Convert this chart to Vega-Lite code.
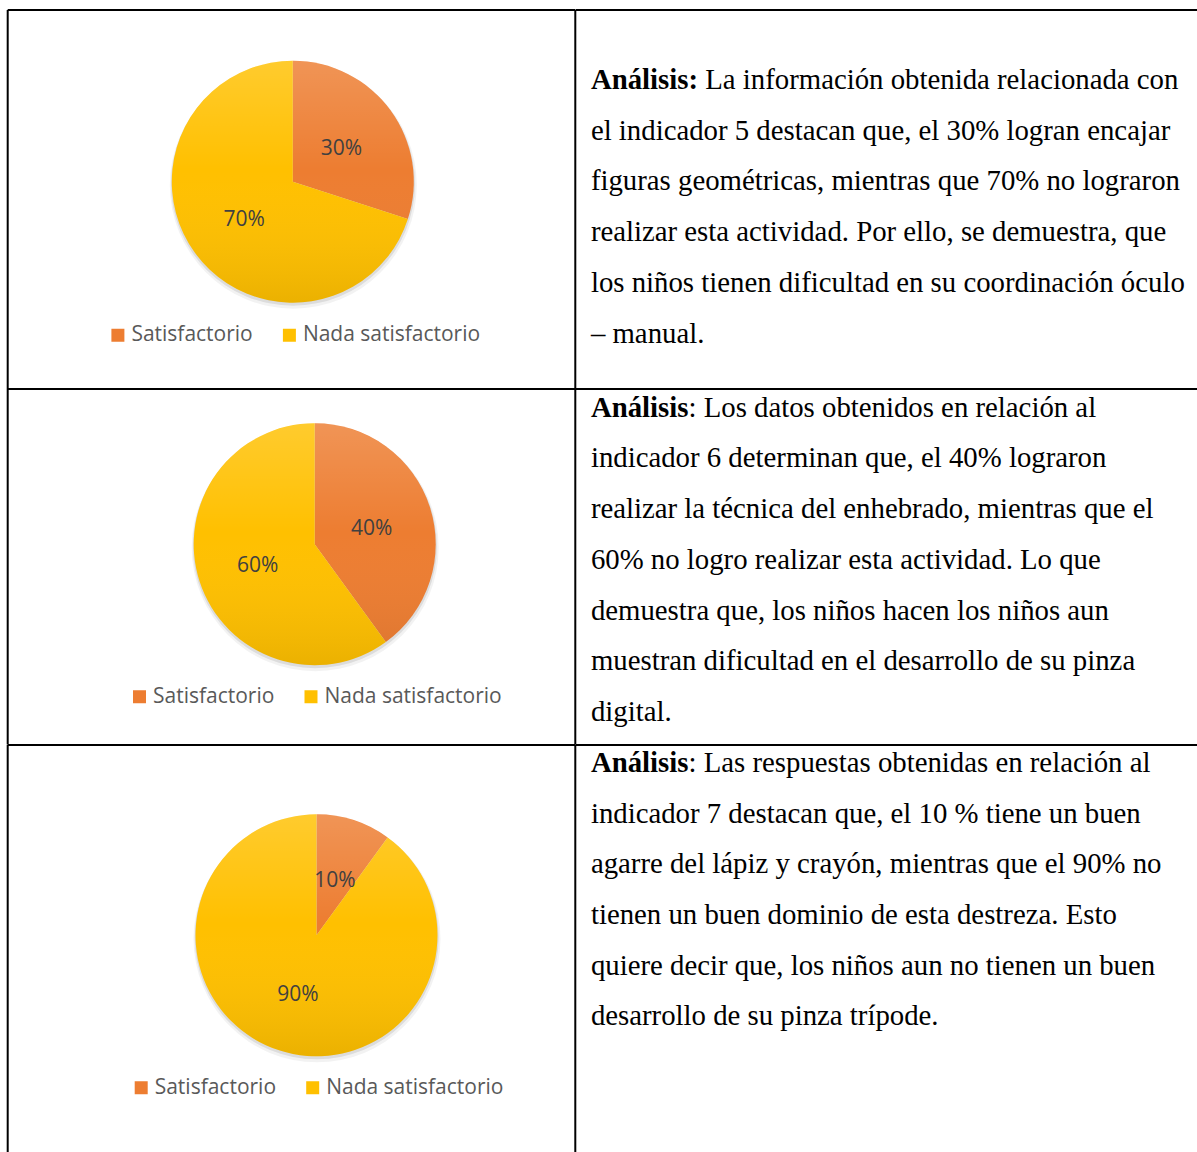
{
  "$schema": "https://vega.github.io/schema/vega-lite/v6.json",
  "padding": {"left": 6.7, "top": 9, "right": 0, "bottom": 0},
  "autosize": {"type": "pad"},
  "background": "white",
  "config": {
    "view": {"stroke": null},
    "text": {"font": "Liberation Serif", "fontSize": 28.8, "fill": "#000000"},
    "legend": {
      "orient": "none", "direction": "horizontal", "title": null,
      "symbolType": "square", "symbolSize": 169, "symbolStrokeWidth": 0, "symbolOpacity": 1,
      "labelFont": "Open Sans", "labelFontSize": 21, "labelColor": "#595959",
      "labelOffset": 3, "columnPadding": 25.5, "labelLimit": 400
    }
  },
  "datasets": {
    "pies": [
      {"row": 1, "k": 1, "cat": "Satisfactorio", "value": 30, "label": "30%"},
      {"row": 1, "k": 2, "cat": "Nada satisfactorio", "value": 70, "label": "70%"},
      {"row": 2, "k": 1, "cat": "Satisfactorio", "value": 40, "label": "40%"},
      {"row": 2, "k": 2, "cat": "Nada satisfactorio", "value": 60, "label": "60%"},
      {"row": 3, "k": 1, "cat": "Satisfactorio", "value": 10, "label": "10%"},
      {"row": 3, "k": 2, "cat": "Nada satisfactorio", "value": 90, "label": "90%"}
    ],
    "lines": [
      {"row": 1, "line": 1, "b": "Análisis:", "t": "La información obtenida relacionada con"},
      {"row": 1, "line": 2, "t": "el indicador 5 destacan que, el 30% logran encajar"},
      {"row": 1, "line": 3, "t": "figuras geométricas, mientras que 70% no lograron"},
      {"row": 1, "line": 4, "t": "realizar esta actividad. Por ello, se demuestra, que"},
      {"row": 1, "line": 5, "t": "los niños tienen dificultad en su coordinación óculo"},
      {"row": 1, "line": 6, "t": "– manual."},
      {"row": 2, "line": 1, "b": "Análisis", "t": ": Los datos obtenidos en relación al"},
      {"row": 2, "line": 2, "t": "indicador 6 determinan que, el 40% lograron"},
      {"row": 2, "line": 3, "t": "realizar la técnica del enhebrado, mientras que el"},
      {"row": 2, "line": 4, "t": "60% no logro realizar esta actividad. Lo que"},
      {"row": 2, "line": 5, "t": "demuestra que, los niños hacen los niños aun"},
      {"row": 2, "line": 6, "t": "muestran dificultad en el desarrollo de su pinza"},
      {"row": 2, "line": 7, "t": "digital."},
      {"row": 3, "line": 1, "b": "Análisis", "t": ": Las respuestas obtenidas en relación al"},
      {"row": 3, "line": 2, "t": "indicador 7 destacan que, el 10 % tiene un buen"},
      {"row": 3, "line": 3, "t": "agarre del lápiz y crayón, mientras que el 90% no"},
      {"row": 3, "line": 4, "t": "tienen un buen dominio de esta destreza. Esto"},
      {"row": 3, "line": 5, "t": "quiere decir que, los niños aun no tienen un buen"},
      {"row": 3, "line": 6, "t": "desarrollo de su pinza trípode."}
    ]
  },
  "columns": 2,
  "spacing": 0,
  "bounds": "flush",
  "resolve": {"scale": {"color": "independent", "theta": "independent"}, "legend": {"color": "independent"}},
  "concat": [
    {
      "width": 567.6, "height": 379,
      "data": {"name": "pies"},
      "transform": [{"filter": "datum.row == 1"}],
      "layer": [
        {"transform": [{"aggregate": [{"op": "sum", "field": "value", "as": "total"}]}],
         "mark": {"type": "arc", "radius": 123.5, "x": 285.6, "y": 175.2, "fill": "#000000", "opacity": 0.05},
         "encoding": {"theta": {"field": "total", "type": "quantitative"}}},
        {"transform": [{"aggregate": [{"op": "sum", "field": "value", "as": "total"}]}],
         "mark": {"type": "arc", "radius": 122, "x": 285.3, "y": 173.7, "fill": "#000000", "opacity": 0.09},
         "encoding": {"theta": {"field": "total", "type": "quantitative"}}},
        {"mark": {"type": "arc", "radius": 121, "x": 285.1, "y": 171.7},
         "encoding": {
           "theta": {"field": "value", "type": "quantitative", "stack": true},
           "order": {"field": "k", "type": "quantitative"},
           "color": {"field": "cat", "type": "nominal", "scale": {"domain": ["Satisfactorio", "Nada satisfactorio"], "range": ["#ED7D31", "#FFC000"]},
                     "legend": {"legendX": 99.7, "legendY": 314.5}}
         }},
        {"transform": [{"aggregate": [{"op": "sum", "field": "value", "as": "total"}]}],
         "mark": {"type": "arc", "radius": 121, "x": 285.1, "y": 171.7,
                  "fill": {"gradient": "linear", "x1": 0, "y1": 0, "x2": 0, "y2": 1,
                           "stops": [{"offset": 0, "color": "rgba(255,255,255,0.18)"}, {"offset": 0.45, "color": "rgba(255,255,255,0)"}, {"offset": 1, "color": "rgba(0,0,0,0.08)"}]}},
         "encoding": {"theta": {"field": "total", "type": "quantitative"}}},
        {"mark": {"type": "text", "radius": 60, "x": 285.1, "y": 171.7, "dy": 3, "font": "Open Sans", "fontSize": 21, "fill": "#404040", "align": "center", "baseline": "middle"},
         "encoding": {
           "theta": {"field": "value", "type": "quantitative", "stack": true},
           "order": {"field": "k", "type": "quantitative"},
           "text": {"field": "label"}
         }},
        {"transform": [{"aggregate": [{"op": "count", "as": "n"}]}],
         "mark": {"type": "rule", "color": "#000000", "strokeWidth": 2}, "encoding": {"x": {"value": 0}}},
        {"transform": [{"aggregate": [{"op": "count", "as": "n"}]}],
         "mark": {"type": "rule", "color": "#000000", "strokeWidth": 2}, "encoding": {"x": {"value": 567.6}}},
        {"transform": [{"aggregate": [{"op": "count", "as": "n"}]}],
         "mark": {"type": "rule", "color": "#000000", "strokeWidth": 2}, "encoding": {"y": {"value": 0}}}
      ]
    },
    {
      "width": 621.7, "height": 379,
      "data": {"name": "lines"},
      "transform": [{"filter": "datum.row == 1"}],
      "encoding": {"y": {"field": "line", "type": "quantitative", "scale": {"domain": [-0.5582, 6.9171], "range": [0, 379], "nice": false, "zero": false}, "axis": null}},
      "layer": [
        {"transform": [{"aggregate": [{"op": "count", "as": "n"}]}],
         "mark": {"type": "rule", "color": "#000000", "strokeWidth": 2}, "encoding": {"y": {"value": 0}}},
        {"transform": [{"filter": "datum.line == 1"}],
         "mark": {"type": "text", "x": 15.2, "align": "left", "baseline": "alphabetic", "fontWeight": "bold"},
         "encoding": {"text": {"field": "b"}}},
        {"transform": [{"filter": "datum.line == 1"}],
         "mark": {"type": "text", "x": 15.2, "dx": 114.4, "align": "left", "baseline": "alphabetic"},
         "encoding": {"text": {"field": "t"}}},
        {"transform": [{"filter": "datum.line > 1"}],
         "mark": {"type": "text", "x": 15.2, "align": "left", "baseline": "alphabetic"},
         "encoding": {"text": {"field": "t"}}}
      ]
    },
    {
      "width": 567.6, "height": 355.5,
      "data": {"name": "pies"},
      "transform": [{"filter": "datum.row == 2"}],
      "layer": [
        {"transform": [{"aggregate": [{"op": "sum", "field": "value", "as": "total"}]}],
         "mark": {"type": "arc", "radius": 123.5, "x": 307.5, "y": 158.7, "fill": "#000000", "opacity": 0.05},
         "encoding": {"theta": {"field": "total", "type": "quantitative"}}},
        {"transform": [{"aggregate": [{"op": "sum", "field": "value", "as": "total"}]}],
         "mark": {"type": "arc", "radius": 122, "x": 307.2, "y": 157.2, "fill": "#000000", "opacity": 0.09},
         "encoding": {"theta": {"field": "total", "type": "quantitative"}}},
        {"mark": {"type": "arc", "radius": 121, "x": 307, "y": 155.2},
         "encoding": {
           "theta": {"field": "value", "type": "quantitative", "stack": true},
           "order": {"field": "k", "type": "quantitative"},
           "color": {"field": "cat", "type": "nominal", "scale": {"domain": ["Satisfactorio", "Nada satisfactorio"], "range": ["#ED7D31", "#FFC000"]},
                     "legend": {"legendX": 121.3, "legendY": 297}}
         }},
        {"transform": [{"aggregate": [{"op": "sum", "field": "value", "as": "total"}]}],
         "mark": {"type": "arc", "radius": 121, "x": 307, "y": 155.2,
                  "fill": {"gradient": "linear", "x1": 0, "y1": 0, "x2": 0, "y2": 1,
                           "stops": [{"offset": 0, "color": "rgba(255,255,255,0.18)"}, {"offset": 0.45, "color": "rgba(255,255,255,0)"}, {"offset": 1, "color": "rgba(0,0,0,0.08)"}]}},
         "encoding": {"theta": {"field": "total", "type": "quantitative"}}},
        {"mark": {"type": "text", "radius": 60, "x": 307, "y": 155.2, "dy": 3, "font": "Open Sans", "fontSize": 21, "fill": "#404040", "align": "center", "baseline": "middle"},
         "encoding": {
           "theta": {"field": "value", "type": "quantitative", "stack": true},
           "order": {"field": "k", "type": "quantitative"},
           "text": {"field": "label"}
         }},
        {"transform": [{"aggregate": [{"op": "count", "as": "n"}]}],
         "mark": {"type": "rule", "color": "#000000", "strokeWidth": 2}, "encoding": {"x": {"value": 0}}},
        {"transform": [{"aggregate": [{"op": "count", "as": "n"}]}],
         "mark": {"type": "rule", "color": "#000000", "strokeWidth": 2}, "encoding": {"x": {"value": 567.6}}},
        {"transform": [{"aggregate": [{"op": "count", "as": "n"}]}],
         "mark": {"type": "rule", "color": "#000000", "strokeWidth": 2}, "encoding": {"y": {"value": 0}}}
      ]
    },
    {
      "width": 621.7, "height": 355.5,
      "data": {"name": "lines"},
      "transform": [{"filter": "datum.row == 2"}],
      "encoding": {"y": {"field": "line", "type": "quantitative", "scale": {"domain": [0.4536, 7.4654], "range": [0, 355.5], "nice": false, "zero": false}, "axis": null}},
      "layer": [
        {"transform": [{"aggregate": [{"op": "count", "as": "n"}]}],
         "mark": {"type": "rule", "color": "#000000", "strokeWidth": 2}, "encoding": {"y": {"value": 0}}},
        {"transform": [{"filter": "datum.line == 1"}],
         "mark": {"type": "text", "x": 15.2, "align": "left", "baseline": "alphabetic", "fontWeight": "bold"},
         "encoding": {"text": {"field": "b"}}},
        {"transform": [{"filter": "datum.line == 1"}],
         "mark": {"type": "text", "x": 15.2, "dx": 97.6, "align": "left", "baseline": "alphabetic"},
         "encoding": {"text": {"field": "t"}}},
        {"transform": [{"filter": "datum.line > 1"}],
         "mark": {"type": "text", "x": 15.2, "align": "left", "baseline": "alphabetic"},
         "encoding": {"text": {"field": "t"}}}
      ]
    },
    {
      "width": 567.6, "height": 407.5,
      "data": {"name": "pies"},
      "transform": [{"filter": "datum.row == 3"}],
      "layer": [
        {"transform": [{"aggregate": [{"op": "sum", "field": "value", "as": "total"}]}],
         "mark": {"type": "arc", "radius": 123.5, "x": 309.3, "y": 193.8, "fill": "#000000", "opacity": 0.05},
         "encoding": {"theta": {"field": "total", "type": "quantitative"}}},
        {"transform": [{"aggregate": [{"op": "sum", "field": "value", "as": "total"}]}],
         "mark": {"type": "arc", "radius": 122, "x": 309, "y": 192.3, "fill": "#000000", "opacity": 0.09},
         "encoding": {"theta": {"field": "total", "type": "quantitative"}}},
        {"mark": {"type": "arc", "radius": 121, "x": 308.8, "y": 190.3},
         "encoding": {
           "theta": {"field": "value", "type": "quantitative", "stack": true},
           "order": {"field": "k", "type": "quantitative"},
           "color": {"field": "cat", "type": "nominal", "scale": {"domain": ["Satisfactorio", "Nada satisfactorio"], "range": ["#ED7D31", "#FFC000"]},
                     "legend": {"legendX": 123, "legendY": 332}}
         }},
        {"transform": [{"aggregate": [{"op": "sum", "field": "value", "as": "total"}]}],
         "mark": {"type": "arc", "radius": 121, "x": 308.8, "y": 190.3,
                  "fill": {"gradient": "linear", "x1": 0, "y1": 0, "x2": 0, "y2": 1,
                           "stops": [{"offset": 0, "color": "rgba(255,255,255,0.18)"}, {"offset": 0.45, "color": "rgba(255,255,255,0)"}, {"offset": 1, "color": "rgba(0,0,0,0.08)"}]}},
         "encoding": {"theta": {"field": "total", "type": "quantitative"}}},
        {"mark": {"type": "text", "radius": 60, "x": 308.8, "y": 190.3, "dy": 3, "font": "Open Sans", "fontSize": 21, "fill": "#404040", "align": "center", "baseline": "middle"},
         "encoding": {
           "theta": {"field": "value", "type": "quantitative", "stack": true},
           "order": {"field": "k", "type": "quantitative"},
           "text": {"field": "label"}
         }},
        {"transform": [{"aggregate": [{"op": "count", "as": "n"}]}],
         "mark": {"type": "rule", "color": "#000000", "strokeWidth": 2}, "encoding": {"x": {"value": 0}}},
        {"transform": [{"aggregate": [{"op": "count", "as": "n"}]}],
         "mark": {"type": "rule", "color": "#000000", "strokeWidth": 2}, "encoding": {"x": {"value": 567.6}}},
        {"transform": [{"aggregate": [{"op": "count", "as": "n"}]}],
         "mark": {"type": "rule", "color": "#000000", "strokeWidth": 2}, "encoding": {"y": {"value": 0}}}
      ]
    },
    {
      "width": 621.7, "height": 407.5,
      "data": {"name": "lines"},
      "transform": [{"filter": "datum.row == 3"}],
      "encoding": {"y": {"field": "line", "type": "quantitative", "scale": {"domain": [0.4675, 8.505], "range": [0, 407.5], "nice": false, "zero": false}, "axis": null}},
      "layer": [
        {"transform": [{"aggregate": [{"op": "count", "as": "n"}]}],
         "mark": {"type": "rule", "color": "#000000", "strokeWidth": 2}, "encoding": {"y": {"value": 0}}},
        {"transform": [{"filter": "datum.line == 1"}],
         "mark": {"type": "text", "x": 15.2, "align": "left", "baseline": "alphabetic", "fontWeight": "bold"},
         "encoding": {"text": {"field": "b"}}},
        {"transform": [{"filter": "datum.line == 1"}],
         "mark": {"type": "text", "x": 15.2, "dx": 97.6, "align": "left", "baseline": "alphabetic"},
         "encoding": {"text": {"field": "t"}}},
        {"transform": [{"filter": "datum.line > 1"}],
         "mark": {"type": "text", "x": 15.2, "align": "left", "baseline": "alphabetic"},
         "encoding": {"text": {"field": "t"}}}
      ]
    }
  ]
}
